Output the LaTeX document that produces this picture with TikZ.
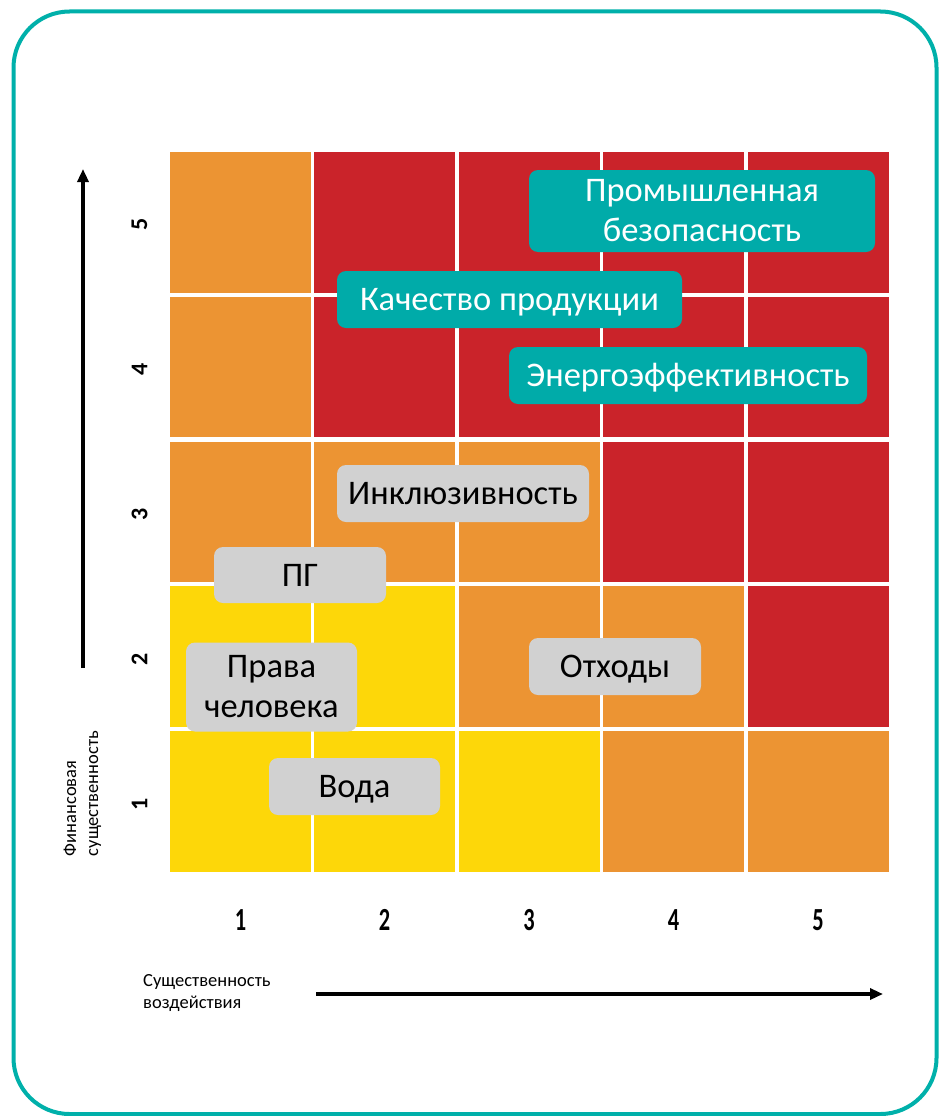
\documentclass[tikz,border=0pt]{standalone}
\usepackage{fontspec}
\setmainfont{Carlito}
\usetikzlibrary{arrows.meta}
\definecolor{cO}{HTML}{EC9433}
\definecolor{cR}{HTML}{CA232A}
\definecolor{cY}{HTML}{FDD709}
\definecolor{cteal}{HTML}{00ABA9}
\definecolor{cborder}{HTML}{00B0AA}
\definecolor{cgray}{HTML}{D1D1D1}
\begin{document}
\begin{tikzpicture}[x=1pt,y=-1pt,
  labelbox/.style={rounded corners=9pt, inner sep=0pt, align=center,
    font=\fontsize{34.5}{40}\selectfont},
  tealbox/.style={labelbox, fill=cteal, text=white},
  graybox/.style={labelbox, fill=cgray, text=black},
  onel/.style={text height=22pt, text depth=0pt},
  smalltext/.style={font=\fontsize{18.5}{22}\selectfont, inner sep=0pt},
  ynum/.style={font=\bfseries\fontsize{24}{24}\selectfont, rotate=90, inner sep=0pt},
  xnum/.style={font=\bfseries\fontsize{28}{28}\selectfont, inner sep=0pt},
  axisarrow/.style={line width=3.2pt, -{Triangle[length=13pt,width=11pt]}}]
\useasboundingbox (0,0) rectangle (940,1116);
% border
\draw[cborder, line width=4pt, rounded corners=56pt] (13.5,11.5) rectangle (936.5,1114);
% grid
\foreach \j/\row in {0/{O,R,R,R,R},1/{O,R,R,R,R},2/{O,O,O,R,R},3/{Y,Y,O,O,R},4/{Y,Y,Y,O,O}}{
  \foreach \c [count=\i from 0] in \row {
    \fill[c\c] (169.5+144.5*\i, 152+144.8*\j) rectangle ++(141,140.5);
  }
}
% labels
\node[tealbox, minimum width=346pt, minimum height=82pt] (pb) at (702,211) {Промышленная\\безопасность};
\node[tealbox, onel, minimum width=345pt, minimum height=57pt] (kp) at (509.5,299.5) {Качество продукции};
\node[tealbox, onel, minimum width=358pt, minimum height=57pt] (ee) at (688,375.5) {Энергоэффективность};
\node[graybox, onel, minimum width=252pt, minimum height=57pt] (ink) at (463,493.5) {Инклюзивность};
\node[graybox, onel, minimum width=172pt, minimum height=56pt] (pg) at (300,575) {ПГ};
\node[graybox, minimum width=171pt, minimum height=89pt] (ph) at (271.5,687) {Права\\человека};
\node[graybox, onel, minimum width=172pt, minimum height=57pt] (ot) at (615,666.5) {Отходы};
\node[graybox, onel, minimum width=171pt, minimum height=57pt] (vo) at (354.5,786.5) {Вода};
% y-axis numbers
\node[ynum] (y5) at (139.5,224) {5};
\node[ynum] (y4) at (139.5,369) {4};
\node[ynum] (y3) at (139.5,514) {3};
\node[ynum] (y2) at (139.5,659) {2};
\node[ynum] (y1) at (139.5,804) {1};
% x-axis numbers
\node[xnum] (x1) at (240.5,920) {\scalebox{0.8}[1.15]{1}};
\node[xnum] (x2) at (384.5,920) {\scalebox{0.8}[1.15]{2}};
\node[xnum] (x3) at (529,920) {\scalebox{0.8}[1.15]{3}};
\node[xnum] (x4) at (673.5,920) {\scalebox{0.8}[1.15]{4}};
\node[xnum] (x5) at (818,920) {\scalebox{0.8}[1.15]{5}};
% axis titles
\node[smalltext, rotate=90, align=left] (fin) at (82.5,793.5) {Финансовая\\существенность};
\node[smalltext, align=left, anchor=west] (sv) at (143,993) {Существенность\\воздействия};
% arrows
\coordinate (ya0) at (83,668);
\coordinate (ya1) at (83,169);
\coordinate (xa0) at (316,994);
\coordinate (xa1) at (883,994);
\draw[axisarrow] (ya0) -- (ya1);
\draw[axisarrow] (xa0) -- (xa1);
\end{tikzpicture}
\end{document}
